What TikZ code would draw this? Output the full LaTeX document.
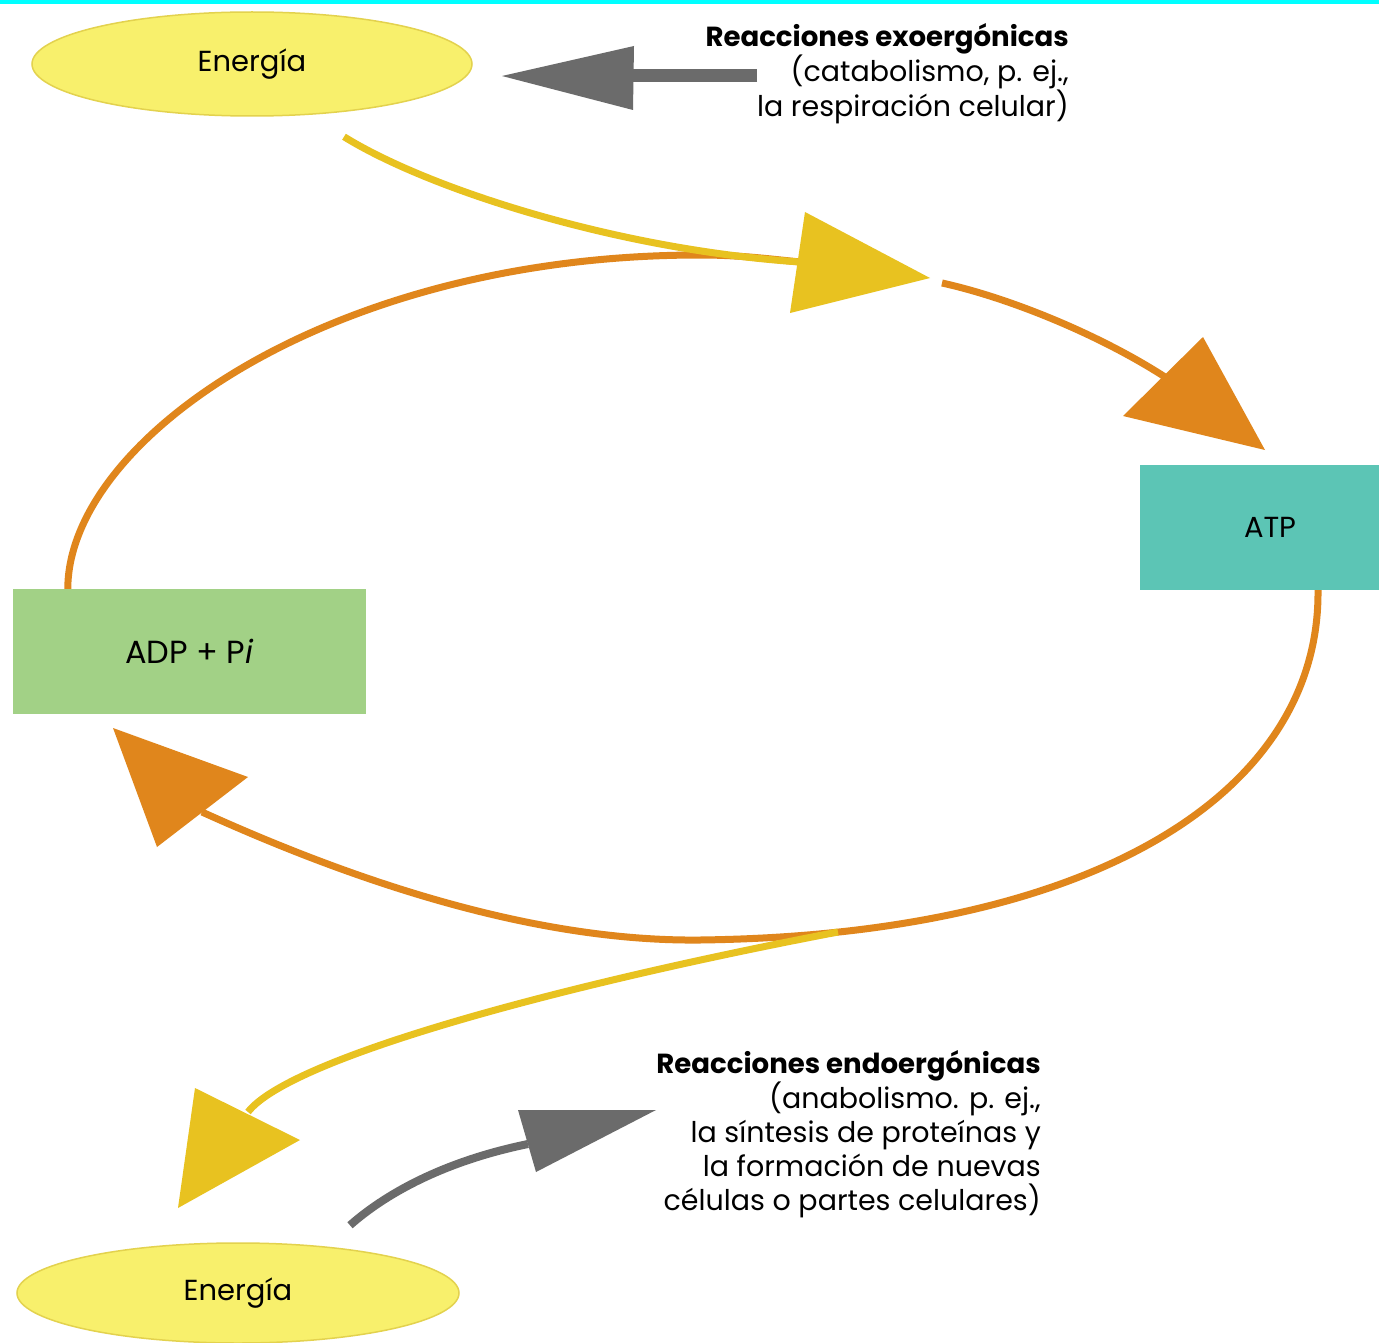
\documentclass[tikz,border=0pt]{standalone}
\usepackage{fontspec}
\setmainfont{Poppins}
\usetikzlibrary{shapes.geometric}

\definecolor{topbar}{HTML}{00FFFF}
\definecolor{cycleorange}{HTML}{E0861C}
\definecolor{energyyellow}{HTML}{E8C220}
\definecolor{reactgray}{HTML}{6B6B6B}
\definecolor{atpfill}{HTML}{5CC5B5}
\definecolor{adpfill}{HTML}{A2D186}
\definecolor{ellfill}{HTML}{F8F06C}
\definecolor{elledge}{HTML}{E3D24E}

\newcommand{\headline}[1]{{\fontsize{27.6}{34}\selectfont\textbf{#1}}}

\begin{document}
\begin{tikzpicture}[x=1pt,y=-1pt,
  energy/.style={ellipse, fill=ellfill, draw=elledge, line width=1.5pt,
    minimum width=440pt, minimum height=104pt, inner sep=0pt,
    font=\fontsize{29}{33}\selectfont},
  molbox/.style={rectangle, inner sep=0pt, minimum height=125pt,
    font=\fontsize{29}{33}\selectfont},
  cycleline/.style={draw=cycleorange, line width=7pt},
  feedline/.style={draw=energyyellow, line width=7pt},
  reactline/.style={draw=reactgray},
  reacttext/.style={align=right, inner sep=0pt,
    font=\fontsize{28.5}{34}\selectfont}
]
\useasboundingbox (0,0) rectangle (1379,1343);
\fill[white] (0,0) rectangle (1379,1343);
\fill[topbar] (0,0) rectangle (1379,4);

% energy sources and the two forms of the nucleotide
\node[energy] (etop) at (252,64) {Energía};
\node[energy, minimum width=442pt, minimum height=100pt] (ebot) at (238,1293) {Energía};
\node[molbox, fill=adpfill, minimum width=353pt,
  font=\fontsize{32}{36}\selectfont] (adp) at (189.5,651.5) {ADP + P\textit{i}\hspace{17pt}};
\node[molbox, fill=atpfill, minimum width=260pt] (atp) at (1270,527.5) {ATP};

% reaction captions
\node[reacttext, anchor=east] (exo) at (1069,74)
  {\headline{Reacciones exoergónicas}\\(catabolismo, p. ej.,\\la respiración celular)};
\node[reacttext, anchor=east] (endo) at (1041,1134)
  {\headline{Reacciones endoergónicas}\\(anabolismo. p. ej.,\\la síntesis de proteínas y\\la formación de nuevas\\células o partes celulares)};

% anchor points of the curves
\coordinate (topjoin) at (800,262);
\coordinate (resume) at (942,283);
\coordinate (atphead) at (1165,377);
\coordinate (adphead) at (202,812);
\coordinate (split) at (838,932);
\coordinate (bothead) at (248,1112);
\coordinate (grayhead) at (528,1144);
\coordinate (exotail) at (757,76);
\coordinate (exoshaft) at (630,76);

% ATP synthesis half of the cycle
\draw[cycleline] ([xshift=55pt]adp.north west)
  .. controls (68,440) and (330,255) .. (700,255)
  .. controls (740,255) and (770,259) .. (topjoin);
\draw[cycleline] (resume) .. controls (1010,298) and (1100,335) .. (atphead);
\fill[cycleorange] (1203,337) -- (1265,450) -- (1123,416) -- cycle;

% ATP hydrolysis half of the cycle
\draw[cycleline] ([xshift=48pt]atp.south)
  .. controls (1320,790) and (1100,935) .. (700,940)
  .. controls (520,942) and (330,870) .. (adphead);
\fill[cycleorange] (248,777) -- (113,728) -- (157,847) -- cycle;

% energy taken in and given out
\draw[feedline] ([xshift=92pt,yshift=-20pt]etop.south)
  .. controls (430,190) and (620,250) .. (topjoin);
\fill[energyyellow] (805,212) -- (930,278) -- (790,313) -- cycle;
\draw[feedline] (split) .. controls (560,985) and (290,1058) .. (bothead);
\fill[energyyellow] (195,1088) -- (300,1140) -- (178,1208) -- cycle;

% exergonic and endergonic reaction arrows
\draw[reactline, line width=13pt] (exotail) -- (exoshaft);
\fill[reactgray] (634,46) -- (502,76) -- (633,110) -- cycle;
\draw[reactline, line width=8pt] ([xshift=112pt,yshift=17pt]ebot.north)
  .. controls (390,1190) and (450,1160) .. (grayhead);
\fill[reactgray] (518,1110) -- (656,1110) -- (536,1172) -- cycle;
\end{tikzpicture}
\end{document}
